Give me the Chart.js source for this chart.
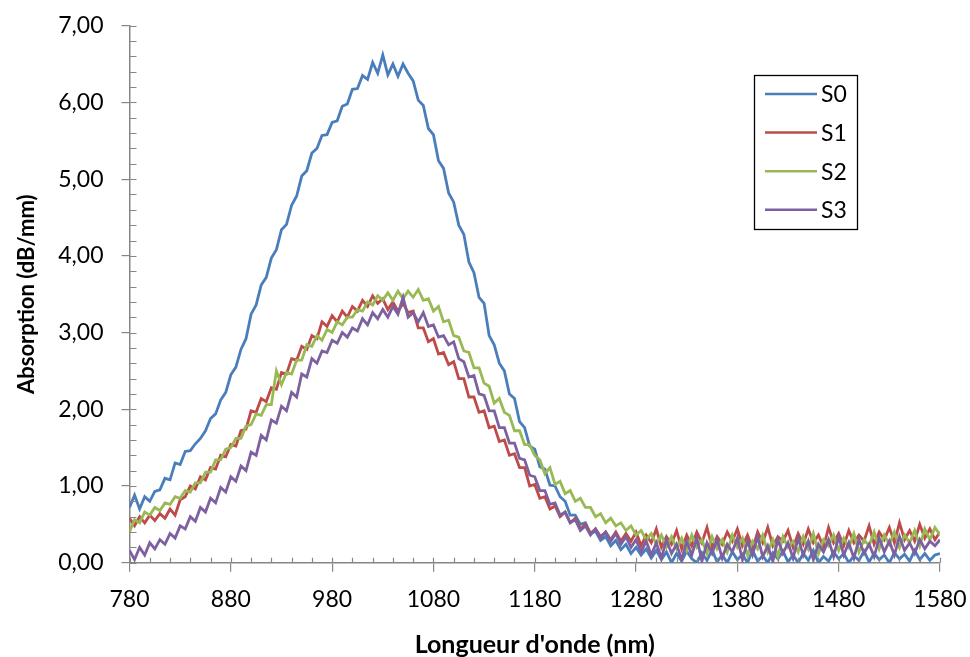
<!DOCTYPE html>
<html>
<head>
<meta charset="utf-8">
<script src="https://cdn.jsdelivr.net/npm/chart.js@4.4.1/dist/chart.umd.min.js"></script>
<style>
  body { margin: 0; background: #fff; }
  #wrap { width: 970px; height: 657px; position: relative; }
</style>
</head>
<body>
<div id="wrap"><canvas id="absChart"></canvas></div>
<script>
// Longueurs d'onde (nm)
const wavelengths = [
  780, 785, 790, 795, 800, 805, 810, 815, 820, 825,
  830, 835, 840, 845, 850, 855, 860, 865, 870, 875,
  880, 885, 890, 895, 900, 905, 910, 915, 920, 925,
  930, 935, 940, 945, 950, 955, 960, 965, 970, 975,
  980, 985, 990, 995, 1000, 1005, 1010, 1015, 1020, 1025,
  1030, 1035, 1040, 1045, 1050, 1055, 1060, 1065, 1070, 1075,
  1080, 1085, 1090, 1095, 1100, 1105, 1110, 1115, 1120, 1125,
  1130, 1135, 1140, 1145, 1150, 1155, 1160, 1165, 1170, 1175,
  1180, 1185, 1190, 1195, 1200, 1205, 1210, 1215, 1220, 1225,
  1230, 1235, 1240, 1245, 1250, 1255, 1260, 1265, 1270, 1275,
  1280, 1285, 1290, 1295, 1300, 1305, 1310, 1315, 1320, 1325,
  1330, 1335, 1340, 1345, 1350, 1355, 1360, 1365, 1370, 1375,
  1380, 1385, 1390, 1395, 1400, 1405, 1410, 1415, 1420, 1425,
  1430, 1435, 1440, 1445, 1450, 1455, 1460, 1465, 1470, 1475,
  1480, 1485, 1490, 1495, 1500, 1505, 1510, 1515, 1520, 1525,
  1530, 1535, 1540, 1545, 1550, 1555, 1560, 1565, 1570, 1575,
  1580
];

// Absorption (dB/mm) par échantillon
const s0 = [
  0.72, 0.88, 0.70, 0.86, 0.80, 0.93, 0.95, 1.10, 1.08, 1.30,
  1.28, 1.45, 1.46, 1.55, 1.62, 1.72, 1.88, 1.94, 2.12, 2.22,
  2.45, 2.55, 2.78, 2.92, 3.24, 3.36, 3.62, 3.72, 3.97, 4.08,
  4.34, 4.41, 4.66, 4.78, 5.04, 5.11, 5.34, 5.40, 5.57, 5.58,
  5.74, 5.76, 5.95, 5.98, 6.17, 6.18, 6.35, 6.30, 6.52, 6.38,
  6.62, 6.36, 6.50, 6.34, 6.50, 6.38, 6.28, 6.03, 5.96, 5.66,
  5.58, 5.24, 5.14, 4.82, 4.70, 4.40, 4.28, 3.92, 3.78, 3.46,
  3.38, 2.96, 2.84, 2.60, 2.50, 2.20, 2.14, 1.84, 1.76, 1.52,
  1.48, 1.25, 1.22, 1.01, 1.00, 0.86, 0.80, 0.62, 0.62, 0.50,
  0.52, 0.38, 0.41, 0.29, 0.34, 0.22, 0.29, 0.17, 0.24, 0.12,
  0.20, 0.10, 0.18, 0.06, 0.16, 0.04, 0.14, 0.00, 0.12, 0.02,
  0.15, 0.05, 0.00, 0.13, 0.03, 0.17, 0.01, 0.10, 0.00, 0.14,
  0.04, 0.11, 0.00, 0.16, 0.02, 0.09, 0.00, 0.13, 0.05, 0.15,
  0.01, 0.10, 0.00, 0.12, 0.03, 0.16, 0.00, 0.08, 0.02, 0.14,
  0.05, 0.12, 0.00, 0.09, 0.03, 0.15, 0.01, 0.12, 0.04, 0.10,
  0.00, 0.13, 0.05, 0.11, 0.02, 0.16, 0.04, 0.12, 0.03, 0.10,
  0.12
];
const s1 = [
  0.58, 0.48, 0.60, 0.52, 0.62, 0.55, 0.64, 0.58, 0.70, 0.62,
  0.82, 0.86, 1.00, 0.96, 1.12, 1.08, 1.24, 1.22, 1.40, 1.38,
  1.54, 1.52, 1.72, 1.74, 1.98, 1.96, 2.14, 2.10, 2.28, 2.26,
  2.48, 2.46, 2.66, 2.64, 2.82, 2.78, 2.96, 2.92, 3.14, 3.08,
  3.22, 3.14, 3.28, 3.20, 3.34, 3.28, 3.42, 3.34, 3.48, 3.38,
  3.44, 3.30, 3.40, 3.28, 3.38, 3.26, 3.28, 3.06, 3.06, 2.88,
  2.92, 2.72, 2.74, 2.58, 2.62, 2.40, 2.40, 2.16, 2.16, 1.96,
  1.98, 1.76, 1.78, 1.58, 1.60, 1.40, 1.42, 1.24, 1.24, 1.00,
  1.02, 0.84, 0.86, 0.70, 0.74, 0.60, 0.66, 0.52, 0.58, 0.44,
  0.50, 0.38, 0.44, 0.34, 0.40, 0.30, 0.40, 0.28, 0.38, 0.28,
  0.40, 0.22, 0.36, 0.26, 0.44, 0.20, 0.34, 0.24, 0.42, 0.18,
  0.36, 0.22, 0.40, 0.26, 0.46, 0.20, 0.34, 0.24, 0.40, 0.28,
  0.44, 0.22, 0.36, 0.18, 0.40, 0.26, 0.46, 0.22, 0.34, 0.28,
  0.42, 0.20, 0.38, 0.24, 0.44, 0.26, 0.36, 0.20, 0.46, 0.26,
  0.38, 0.22, 0.42, 0.26, 0.36, 0.28, 0.48, 0.24, 0.40, 0.30,
  0.46, 0.26, 0.52, 0.30, 0.42, 0.28, 0.50, 0.32, 0.44, 0.30,
  0.40
];
const s2 = [
  0.40, 0.56, 0.52, 0.66, 0.62, 0.72, 0.68, 0.78, 0.76, 0.86,
  0.84, 0.94, 0.92, 1.04, 1.04, 1.18, 1.18, 1.34, 1.34, 1.48,
  1.50, 1.62, 1.62, 1.78, 1.80, 1.94, 1.92, 2.06, 2.06, 2.50,
  2.32, 2.48, 2.46, 2.64, 2.64, 2.84, 2.82, 2.96, 2.90, 3.04,
  3.00, 3.14, 3.10, 3.20, 3.20, 3.30, 3.28, 3.40, 3.36, 3.48,
  3.42, 3.52, 3.42, 3.54, 3.44, 3.54, 3.46, 3.56, 3.42, 3.44,
  3.28, 3.34, 3.14, 3.16, 2.96, 2.94, 2.76, 2.74, 2.54, 2.54,
  2.34, 2.30, 2.08, 2.14, 1.96, 1.92, 1.72, 1.72, 1.54, 1.54,
  1.40, 1.34, 1.16, 1.24, 1.02, 1.06, 0.90, 0.94, 0.80, 0.84,
  0.72, 0.72, 0.60, 0.64, 0.52, 0.58, 0.48, 0.52, 0.42, 0.48,
  0.36, 0.42, 0.30, 0.38, 0.24, 0.36, 0.20, 0.34, 0.18, 0.32,
  0.16, 0.36, 0.20, 0.30, 0.12, 0.34, 0.18, 0.30, 0.14, 0.36,
  0.20, 0.32, 0.10, 0.28, 0.18, 0.36, 0.14, 0.30, 0.08, 0.34,
  0.20, 0.28, 0.14, 0.34, 0.18, 0.38, 0.12, 0.30, 0.22, 0.36,
  0.16, 0.32, 0.20, 0.38, 0.14, 0.30, 0.22, 0.40, 0.18, 0.36,
  0.24, 0.40, 0.20, 0.36, 0.26, 0.42, 0.22, 0.44, 0.30, 0.46,
  0.36
];
const s3 = [
  0.16, 0.04, 0.20, 0.10, 0.26, 0.18, 0.30, 0.24, 0.38, 0.32,
  0.48, 0.44, 0.60, 0.54, 0.72, 0.66, 0.84, 0.78, 0.98, 0.92,
  1.12, 1.06, 1.26, 1.20, 1.44, 1.40, 1.66, 1.60, 1.86, 1.82,
  2.04, 1.98, 2.22, 2.16, 2.46, 2.42, 2.66, 2.60, 2.76, 2.74,
  2.90, 2.86, 3.00, 2.94, 3.06, 3.02, 3.18, 3.10, 3.26, 3.18,
  3.30, 3.20, 3.34, 3.24, 3.46, 3.20, 3.26, 3.14, 3.26, 3.08,
  3.10, 2.94, 2.96, 2.84, 2.88, 2.66, 2.62, 2.42, 2.44, 2.20,
  2.18, 1.98, 1.98, 1.76, 1.76, 1.56, 1.56, 1.36, 1.34, 1.14,
  1.12, 0.94, 0.94, 0.76, 0.78, 0.62, 0.66, 0.52, 0.56, 0.42,
  0.48, 0.36, 0.44, 0.32, 0.40, 0.28, 0.38, 0.24, 0.34, 0.20,
  0.30, 0.14, 0.28, 0.10, 0.26, 0.06, 0.30, 0.12, 0.24, 0.04,
  0.28, 0.10, 0.32, 0.02, 0.26, 0.12, 0.30, 0.06, 0.24, 0.14,
  0.32, 0.04, 0.28, 0.10, 0.34, 0.08, 0.22, 0.02, 0.30, 0.12,
  0.26, 0.06, 0.32, 0.10, 0.28, 0.04, 0.24, 0.14, 0.30, 0.08,
  0.34, 0.10, 0.26, 0.06, 0.30, 0.12, 0.24, 0.08, 0.32, 0.14,
  0.28, 0.10, 0.34, 0.16, 0.26, 0.12, 0.30, 0.18, 0.28, 0.22,
  0.30
];

const seriesNames = ['S0', 'S1', 'S2', 'S3'];
const seriesColors = ['#4A7EBB', '#BE4B48', '#98B954', '#7D60A0'];
const xTicks = [780, 880, 980, 1080, 1180, 1280, 1380, 1480, 1580];
const yTicks = [0, 1, 2, 3, 4, 5, 6, 7];

const axisColor = '#868686';
const FONT = 'Lato, "Open Sans", sans-serif';

// petites graduations + partie intérieure des grandes
const minorTicks = {
  id: 'minorTicks',
  afterDraw(chart) {
    const ctx = chart.ctx;
    const xs = chart.scales.x, ys = chart.scales.y;
    const area = chart.chartArea;
    ctx.save();
    ctx.strokeStyle = axisColor;
    ctx.lineWidth = 1.2;
    ctx.beginPath();
    for (let v = xTicks[0]; v <= xTicks[xTicks.length - 1]; v += 20) {
      const px = Math.round(xs.getPixelForValue(v)) + 0.5;
      ctx.moveTo(px, area.bottom);
      ctx.lineTo(px, area.bottom - 5);
    }
    for (let k = 0; k <= 35; k++) {
      const py = Math.round(ys.getPixelForValue(k * 0.2)) + 0.5;
      ctx.moveTo(area.left, py);
      ctx.lineTo(area.left + 7, py);
    }
    ctx.stroke();
    ctx.restore();
  }
};

// légende encadrée dans la zone du graphique
const boxLegend = {
  id: 'boxLegend',
  afterDraw(chart) {
    const ctx = chart.ctx;
    ctx.save();
    ctx.strokeStyle = '#000';
    ctx.lineWidth = 1.3;
    ctx.strokeRect(754.5, 75.5, 103, 154);
    ctx.font = '23px ' + FONT;
    ctx.textBaseline = 'middle';
    ctx.textAlign = 'left';
    chart.data.datasets.forEach((ds, i) => {
      const y = 94 + i * 38.6;
      ctx.strokeStyle = ds.borderColor;
      ctx.lineWidth = 2.5;
      ctx.beginPath();
      ctx.moveTo(765, y);
      ctx.lineTo(817, y);
      ctx.stroke();
      ctx.fillStyle = '#000';
      ctx.fillText(ds.label, 821, y + 1);
    });
    ctx.restore();
  }
};

const datasets = [s0, s1, s2, s3].map((vals, i) => ({
  label: seriesNames[i],
  data: wavelengths.map((w, j) => ({ x: w, y: vals[j] })),
  borderColor: seriesColors[i],
  borderWidth: 2.8,
  pointRadius: 0,
  tension: 0,
  fill: false,
  order: 4 - i
}));

new Chart(document.getElementById('absChart'), {
  type: 'line',
  data: { datasets },
  options: {
    responsive: true,
    maintainAspectRatio: false,
    animation: false,
    layout: { padding: { left: 0, right: 30, top: 25.7, bottom: 0 } },
    plugins: {
      legend: { display: false },
      tooltip: { enabled: false }
    },
    scales: {
      x: {
        type: 'linear',
        min: 780,
        max: 1580,
        afterBuildTicks: (scale) => { scale.ticks = xTicks.map(v => ({ value: v })); },
        afterFit: (scale) => {
          scale.height = 94.3;
          scale.paddingLeft = 10;
          scale.paddingRight = 10;
        },
        ticks: {
          color: '#000',
          font: { family: FONT, size: 23 },
          padding: 14,
          maxRotation: 0,
          callback: (v) => String(v)
        },
        grid: { drawOnChartArea: false, color: axisColor, lineWidth: 1.2, tickLength: 9 },
        border: { color: axisColor, width: 1.5 },
        title: {
          display: true,
          text: "Longueur d'onde (nm)",
          color: '#000',
          font: { family: FONT, size: 25, weight: 'bold', lineHeight: 1 },
          padding: { top: 0, bottom: 0 }
        }
      },
      y: {
        min: 0,
        max: 7,
        afterBuildTicks: (scale) => { scale.ticks = yTicks.map(v => ({ value: v })); },
        afterFit: (scale) => {
          scale.width = 129.5;
          scale.paddingTop = 10;
          scale.paddingBottom = 10;
        },
        ticks: {
          color: '#000',
          font: { family: FONT, size: 23 },
          padding: 18,
          callback: (v) => v.toFixed(2).replace('.', ',')
        },
        grid: { drawOnChartArea: false, color: axisColor, lineWidth: 1.2, tickLength: 8 },
        border: { color: axisColor, width: 1.5 },
        title: {
          display: true,
          text: 'Absorption (dB/mm)',
          color: '#000',
          font: { family: FONT, size: 22, weight: 'bold' },
          padding: { top: 14, bottom: 0 }
        }
      }
    }
  },
  plugins: [minorTicks, boxLegend]
});
</script>
</body>
</html>
